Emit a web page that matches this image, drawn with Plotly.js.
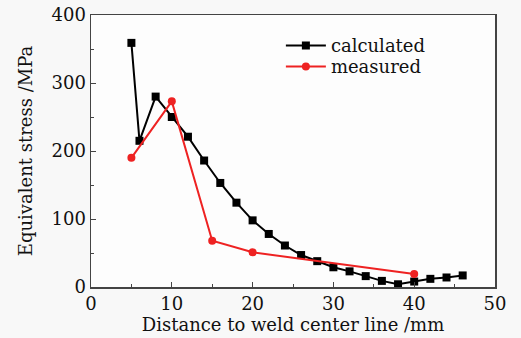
<!DOCTYPE html>
<html>
<head>
<meta charset="utf-8">
<script src="https://cdn.plot.ly/plotly-3.0.1.min.js"></script>
<style>html,body{margin:0;padding:0;background:#f8f8f8;}#chart{width:521px;height:338px;}</style>
</head>
<body>
<div id="chart"></div>
<script>
const calcX = [5, 6, 8, 10, 12, 14, 16, 18, 20, 22, 24, 26, 28, 30, 32, 34, 36, 38, 40, 42, 44, 46];
const calcY = [359, 215, 280, 250, 221, 186, 153, 124, 98, 78, 61, 47, 38, 29, 23, 16, 9, 4, 8, 12, 14, 17];
const measX = [5, 10, 15, 20, 40];
const measY = [190, 273, 68, 51, 19];
const seriesNames = ["calculated", "measured"];

const fam = "DejaVu Serif, serif";
const txt = {family: fam, size: 18, color: "#111"};
const traces = [
  {x: calcX, y: calcY, name: seriesNames[0], type: "scatter", mode: "lines+markers", legend: "legend",
   line: {color: "#000", width: 2}, marker: {symbol: "square", size: 8, color: "#000"}},
  {x: measX, y: measY, name: seriesNames[1], type: "scatter", mode: "lines+markers", legend: "legend2",
   line: {color: "#ee2222", width: 2}, marker: {symbol: "circle", size: 8, color: "#ee2222"}}
];
const axisCommon = {
  showline: true, mirror: true, linecolor: "#444", linewidth: 1.5,
  ticks: "inside", ticklen: 5, tickcolor: "#444", showgrid: false, zeroline: false,
  tickfont: txt
};
const legBase = {x: 0.47, xanchor: "left", yanchor: "top", bgcolor: "rgba(0,0,0,0)",
                 font: txt, itemwidth: 40};
const layout = {
  width: 521, height: 338,
  margin: {l: 91, r: 26, t: 15, b: 51},
  paper_bgcolor: "#f8f8f8", plot_bgcolor: "#fdfdfd",
  font: txt,
  showlegend: true,
  legend: Object.assign({}, legBase, {y: 0.955}),
  legend2: Object.assign({}, legBase, {y: 0.878}),
  xaxis: Object.assign({}, axisCommon, {
    range: [0, 50], dtick: 10, tick0: 0,
    minor: {dtick: 5, ticks: "inside", ticklen: 3, tickcolor: "#444", showgrid: false},
    title: {text: "Distance to weld center line /mm", font: txt, standoff: 2}
  }),
  yaxis: Object.assign({}, axisCommon, {
    range: [0, 400], dtick: 100, tick0: 0,
    minor: {dtick: 50, ticks: "inside", ticklen: 3, tickcolor: "#444", showgrid: false},
    title: {text: "Equivalent stress /MPa", font: txt, standoff: 14}
  })
};
Plotly.newPlot("chart", traces, layout, {displayModeBar: false, staticPlot: true});
</script>
</body>
</html>
